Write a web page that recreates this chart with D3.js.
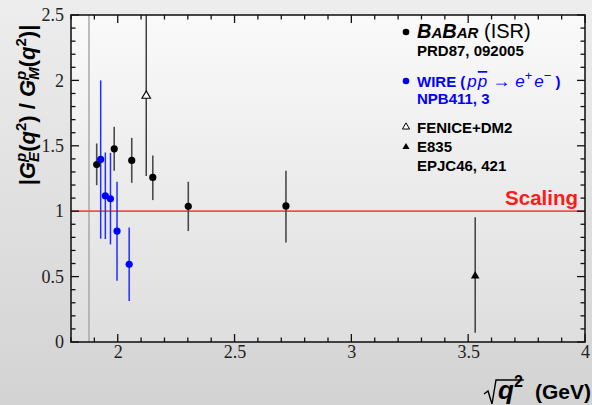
<!DOCTYPE html>
<html>
<head>
<meta charset="utf-8">
<script src="https://cdn.jsdelivr.net/npm/d3@7"></script>
<style>
  html, body { margin: 0; padding: 0; }
  body { width: 592px; height: 405px; overflow: hidden; }
  svg { display: block; }
</style>
</head>
<body>
<div id="chart"></div>
<script>
// data: sqrt(q^2) in GeV, ratio, lower / upper ends of the error bar
var babarX   = [1.910, 1.985, 2.060, 2.150, 2.302, 2.720];
var babarY   = [1.357, 1.477, 1.388, 1.258, 1.037, 1.040];
var babarLo  = [1.199, 1.309, 1.217, 1.085, 0.848, 0.760];
var babarHi  = [1.518, 1.645, 1.561, 1.426, 1.225, 1.310];

var wireX    = [1.927, 1.947, 1.969, 1.997, 2.049];
var wireY    = [1.396, 1.118, 1.095, 0.848, 0.594];
var wireLo   = [0.790, 0.787, 0.746, 0.468, 0.313];
var wireHi   = [2.000, 1.449, 1.446, 1.225, 0.876];

var feniceX  = [2.122];
var feniceY  = [1.882];
var feniceLo = [1.270];
var feniceHi = [2.700];

var e835X    = [3.530];
var e835Y    = [0.504];
var e835Lo   = [0.071];
var e835Hi   = [0.953];

var threshold = 1.877;   // 2 m_p
var scaling = 1;

var xTicks = [2, 2.5, 3, 3.5, 4];
var yTicks = [0, 0.5, 1, 1.5, 2, 2.5];
var xMinor = [1.8, 1.9, 2.1, 2.2, 2.3, 2.4, 2.6, 2.7, 2.8, 2.9, 3.1, 3.2, 3.3, 3.4, 3.6, 3.7, 3.8, 3.9];
var yMinor = [0.1, 0.2, 0.3, 0.4, 0.6, 0.7, 0.8, 0.9, 1.1, 1.2, 1.3, 1.4, 1.6, 1.7, 1.8, 1.9, 2.1, 2.2, 2.3, 2.4];

(function() {
  "use strict";

  var svgWidth = 592, svgHeight = 405,
      margin = {top: 15, right: 7, bottom: 63, left: 71};

  var width = svgWidth - margin.left - margin.right,
      height = svgHeight - margin.top - margin.bottom;

  var svg = d3.select("#chart").append("svg")
      .attr("width", svgWidth)
      .attr("height", svgHeight);

  // background gradients
  var defs = svg.append("defs");
  var pageGrad = defs.append("linearGradient").attr("id", "pageGrad")
      .attr("x1", 0).attr("y1", 0).attr("x2", 0).attr("y2", 1);
  pageGrad.append("stop").attr("offset", "0%").attr("stop-color", "#ededed");
  pageGrad.append("stop").attr("offset", "100%").attr("stop-color", "#d3d3d3");
  var plotGrad = defs.append("linearGradient").attr("id", "plotGrad")
      .attr("x1", 0).attr("y1", 0).attr("x2", 0).attr("y2", 1);
  plotGrad.append("stop").attr("offset", "0%").attr("stop-color", "#fafafa");
  plotGrad.append("stop").attr("offset", "100%").attr("stop-color", "#dedede");
  defs.append("clipPath").attr("id", "plotClip")
    .append("rect").attr("width", width).attr("height", height);

  svg.append("rect")
      .attr("width", svgWidth).attr("height", svgHeight)
      .attr("fill", "url(#pageGrad)");

  var g = svg.append("g")
      .attr("transform", "translate(" + margin.left + "," + margin.top + ")");

  g.append("rect")
      .attr("width", width).attr("height", height)
      .attr("fill", "url(#plotGrad)");

  var x = d3.scaleLinear().domain([1.8, 4]).range([0, width]);
  var y = d3.scaleLinear().domain([0, 2.5]).range([height, 0]);

  // tick labels via d3 axes (tick marks are drawn on top at the end)
  function labelStyle(sel) {
    sel.select(".domain").remove();
    sel.selectAll(".tick line").remove();
    sel.selectAll(".tick text")
        .attr("font-family", "'Liberation Serif', serif")
        .attr("font-size", 18).attr("fill", "#222");
  }
  g.append("g").attr("transform", "translate(0," + height + ")")
      .call(d3.axisBottom(x).tickValues(xTicks).tickSize(0).tickPadding(3).tickFormat(d3.format("")))
      .call(labelStyle);
  g.append("g")
      .call(d3.axisLeft(y).tickValues(yTicks).tickSize(0).tickPadding(7).tickFormat(d3.format("")))
      .call(labelStyle);

  // threshold line
  g.append("line")
      .attr("x1", x(threshold)).attr("x2", x(threshold))
      .attr("y1", 0).attr("y2", height)
      .attr("stroke", "#a8a8a8").attr("stroke-width", 1.5);

  // scaling line
  g.append("line")
      .attr("x1", 0).attr("x2", width)
      .attr("y1", y(scaling)).attr("y2", y(scaling))
      .attr("stroke", "#f05050").attr("stroke-width", 1.8);
  g.append("text")
      .attr("x", x(3.97)).attr("y", y(scaling) - 6)
      .attr("text-anchor", "end")
      .attr("font-family", "'Liberation Sans', Arial, sans-serif")
      .attr("font-weight", "bold").attr("font-size", 20.5)
      .attr("fill", "#ff1a1a")
      .text("Scaling");

  var plot = g.append("g").attr("clip-path", "url(#plotClip)");

  function toRows(xs, ys, lo, hi) {
    return xs.map(function(d, i) { return {x: d, y: ys[i], lo: lo[i], hi: hi[i]}; });
  }

  function errorBars(rows, color, w) {
    plot.append("g").selectAll("line").data(rows).enter().append("line")
        .attr("x1", function(d) { return x(d.x); })
        .attr("x2", function(d) { return x(d.x); })
        .attr("y1", function(d) { return y(d.lo); })
        .attr("y2", function(d) { return y(d.hi); })
        .attr("stroke", color).attr("stroke-width", w);
  }

  var babar = toRows(babarX, babarY, babarLo, babarHi),
      wire = toRows(wireX, wireY, wireLo, wireHi),
      fenice = toRows(feniceX, feniceY, feniceLo, feniceHi),
      e835 = toRows(e835X, e835Y, e835Lo, e835Hi);

  errorBars(babar, "#4a4a4a", 1.6);
  errorBars(wire, "#1f2fff", 1.5);
  errorBars(fenice, "#333", 1.4);
  errorBars(e835, "#333", 1.4);

  plot.append("g").selectAll("circle").data(babar).enter().append("circle")
      .attr("cx", function(d) { return x(d.x); })
      .attr("cy", function(d) { return y(d.y); })
      .attr("r", 3.6).attr("fill", "#000");

  plot.append("g").selectAll("circle").data(wire).enter().append("circle")
      .attr("cx", function(d) { return x(d.x); })
      .attr("cy", function(d) { return y(d.y); })
      .attr("r", 3.6).attr("fill", "#0000ff");

  var tri = d3.symbol().type(d3.symbolTriangle).size(32);
  plot.append("g").selectAll("path").data(fenice).enter().append("path")
      .attr("transform", function(d) { return "translate(" + x(d.x) + "," + y(d.y) + ")"; })
      .attr("d", tri).attr("fill", "#fff").attr("stroke", "#000").attr("stroke-width", 1.1);
  plot.append("g").selectAll("path").data(e835).enter().append("path")
      .attr("transform", function(d) { return "translate(" + x(d.x) + "," + y(d.y) + ")"; })
      .attr("d", tri).attr("fill", "#000");

  // frame
  g.append("rect")
      .attr("width", width).attr("height", height)
      .attr("fill", "none").attr("stroke", "#1a1a1a").attr("stroke-width", 1.6);

  // inward tick marks on all four sides
  var ticks = g.append("g").attr("stroke", "#111").attr("stroke-width", 1.3);
  function xTickMarks(vals, len) {
    ticks.append("g").selectAll("line").data(vals).enter().append("line")
        .attr("x1", function(d) { return x(d); }).attr("x2", function(d) { return x(d); })
        .attr("y1", height).attr("y2", height - len);
    ticks.append("g").selectAll("line").data(vals).enter().append("line")
        .attr("x1", function(d) { return x(d); }).attr("x2", function(d) { return x(d); })
        .attr("y1", 0).attr("y2", len);
  }
  function yTickMarks(vals, len) {
    ticks.append("g").selectAll("line").data(vals).enter().append("line")
        .attr("y1", function(d) { return y(d); }).attr("y2", function(d) { return y(d); })
        .attr("x1", 0).attr("x2", len);
    ticks.append("g").selectAll("line").data(vals).enter().append("line")
        .attr("y1", function(d) { return y(d); }).attr("y2", function(d) { return y(d); })
        .attr("x1", width).attr("x2", width - len);
  }
  xTickMarks(xTicks, 8);
  xTickMarks(xMinor, 4.5);
  yTickMarks(yTicks, 8);
  yTickMarks(yMinor, 4.5);

  /** legend */
  var sans = "'Liberation Sans', Arial, sans-serif";
  var lg = svg.append("g").attr("font-family", sans).attr("font-weight", "bold");

  lg.append("circle").attr("cx", 406).attr("cy", 32).attr("r", 3.3).attr("fill", "#000");
  var t1 = lg.append("text").attr("x", 417).attr("y", 38).attr("fill", "#000")
      .attr("font-style", "italic").attr("font-size", 20);
  t1.append("tspan").text("B");
  t1.append("tspan").attr("font-size", 15).text("A");
  t1.append("tspan").text("B");
  t1.append("tspan").attr("font-size", 15).text("AR");
  t1.append("tspan").attr("font-style", "normal").attr("font-weight", "normal").text(" (ISR)");
  lg.append("text").attr("x", 417).attr("y", 56).attr("font-size", 15).text("PRD87, 092005");

  lg.append("circle").attr("cx", 406).attr("cy", 81).attr("r", 3.3).attr("fill", "#0000ff");
  var t2 = lg.append("text").attr("x", 417).attr("y", 87).attr("fill", "#0000ff").attr("font-size", 15);
  t2.append("tspan").text("WIRE (");
  t2.append("tspan").attr("dx", 2).attr("font-style", "italic").attr("font-weight", "normal").attr("font-size", 17).text("p");
  t2.append("tspan").attr("dx", 1).attr("font-style", "italic").attr("font-weight", "normal").attr("font-size", 17)
      .attr("text-decoration", "overline").text("p");
  t2.append("tspan").attr("dx", 5).attr("font-weight", "normal").attr("font-size", 18).text("\u2192");
  t2.append("tspan").attr("dx", 5).attr("font-style", "italic").attr("font-weight", "normal").attr("font-size", 17).text("e");
  t2.append("tspan").attr("font-weight", "normal").attr("font-size", 13).attr("dy", -7).text("+");
  t2.append("tspan").attr("dx", 2).attr("font-style", "italic").attr("font-weight", "normal").attr("font-size", 17).attr("dy", 7).text("e");
  t2.append("tspan").attr("font-weight", "normal").attr("font-size", 13).attr("dy", -7).text("\u2212");
  t2.append("tspan").attr("dx", 4).attr("dy", 7).text(")");
  lg.append("text").attr("x", 417).attr("y", 104).attr("fill", "#0000ff").attr("font-size", 15).text("NPB411, 3");

  lg.append("path").attr("transform", "translate(406,127)")
      .attr("d", d3.symbol().type(d3.symbolTriangle).size(22))
      .attr("fill", "#fff").attr("stroke", "#000").attr("stroke-width", 1);
  lg.append("text").attr("x", 417).attr("y", 133).attr("font-size", 15).text("FENICE+DM2");
  lg.append("path").attr("transform", "translate(406,147)")
      .attr("d", d3.symbol().type(d3.symbolTriangle).size(22)).attr("fill", "#000");
  lg.append("text").attr("x", 417).attr("y", 152).attr("font-size", 15).text("E835");
  lg.append("text").attr("x", 417).attr("y", 171).attr("font-size", 15).text("EPJC46, 421");

  /** axis titles */
  var yl = svg.append("text")
      .attr("transform", "translate(35,105) rotate(-90)")
      .attr("text-anchor", "middle")
      .attr("font-family", sans).attr("font-weight", "bold").attr("font-size", 22)
      .attr("fill", "#000");
  yl.append("tspan").text("|");
  yl.append("tspan").attr("font-style", "italic").text("G");
  yl.append("tspan").attr("font-style", "italic").attr("font-size", 15).attr("dy", -9).text("p");
  yl.append("tspan").attr("font-style", "italic").attr("font-size", 15).attr("dx", -9).attr("dy", 13).text("E");
  yl.append("tspan").attr("dy", -4).text("(");
  yl.append("tspan").attr("font-style", "italic").text("q");
  yl.append("tspan").attr("font-size", 15).attr("dy", -9).text("2");
  yl.append("tspan").attr("dy", 9).text(") / ");
  yl.append("tspan").attr("font-style", "italic").text("G");
  yl.append("tspan").attr("font-style", "italic").attr("font-size", 15).attr("dy", -9).text("p");
  yl.append("tspan").attr("font-style", "italic").attr("font-size", 15).attr("dx", -9).attr("dy", 13).text("M");
  yl.append("tspan").attr("dy", -4).text("(");
  yl.append("tspan").attr("font-style", "italic").text("q");
  yl.append("tspan").attr("font-size", 15).attr("dy", -9).text("2");
  yl.append("tspan").attr("dy", 9).text(")|");

  // sqrt(q^2) (GeV)
  var xl = svg.append("g").attr("font-family", sans).attr("font-weight", "bold").attr("fill", "#000");
  var q = xl.append("text").attr("x", 498).attr("y", 399).attr("font-size", 26).attr("font-style", "italic");
  q.append("tspan").text("q");
  q.append("tspan").attr("font-style", "normal").attr("font-size", 16).attr("dy", -12).text("2");
  var qw = q.node().getComputedTextLength();
  xl.append("path")
      .attr("d", "M484,394 L488,391 L492,404 L496,380 L" + (498 + qw + 1) + ",380")
      .attr("fill", "none").attr("stroke", "#000").attr("stroke-width", 1.4);
  xl.append("text").attr("x", 591).attr("y", 399).attr("text-anchor", "end")
      .attr("font-size", 21).text("(GeV)");
})();
</script>
</body>
</html>
